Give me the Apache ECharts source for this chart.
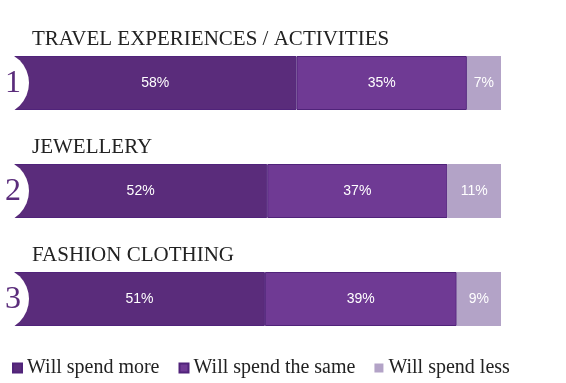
<!DOCTYPE html>
<html><head><meta charset="utf-8">
<script src="https://cdn.jsdelivr.net/npm/echarts@6/dist/echarts.min.js"></script>
<style>html,body{margin:0;padding:0;background:#fff}#c{width:566px;height:383px}</style>
</head><body><div id="c"></div>
<script>
var categories = ['TRAVEL EXPERIENCES / ACTIVITIES', 'JEWELLERY', 'FASHION CLOTHING'];
var ranks = ['1', '2', '3'];
var seriesNames = ['Will spend more', 'Will spend the same', 'Will spend less'];
var spendMore = [58, 52, 51];
var spendSame = [35, 37, 39];
var spendLess = [7, 11, 9];
var colors = ['#5a2c7b', '#6f3a94', '#b3a3c7'];

var raw = [spendMore, spendSame, spendLess];
var totals = categories.map(function (c, i) { return spendMore[i] + spendSame[i] + spendLess[i]; });

var chart = echarts.init(document.getElementById('c'), null, {renderer: 'canvas'});
var series = raw.map(function (arr, s) {
  return {
    name: seriesNames[s], type: 'bar', stack: 'a', barWidth: 54,
    itemStyle: {color: colors[s], borderColor: s < 2 ? '#50237a' : '#b3a3c7', borderWidth: s < 2 ? 1 : 0},
    label: {show: true, position: 'inside', color: '#fff', fontFamily: 'Liberation Sans', fontSize: 14,
      formatter: function (p) { return arr[p.dataIndex] + '%'; }},
    data: arr.map(function (v, i) { return v / totals[i] * 100; })
  };
});
chart.setOption({
  animation: false,
  grid: {left: 14, right: 65, top: 29, height: 324},
  xAxis: {type: 'value', min: 0, max: 100, show: false},
  yAxis: {type: 'category', data: categories, inverse: true, show: false},
  legend: {
    left: 12, top: 358, padding: 0, icon: 'rect', itemWidth: 9, itemHeight: 9, itemGap: 19,
    textStyle: {fontFamily: 'Liberation Serif', fontSize: 20, color: '#222'},
    data: seriesNames
  },
  series: series
});
var g = [];
categories.forEach(function (c, i) {
  var cy = chart.convertToPixel({yAxisIndex: 0}, c);
  g.push({type: 'circle', shape: {cx: -3, cy: cy, r: 32}, style: {fill: '#fff'}, z: 100});
  g.push({type: 'text', x: 13, y: cy + 1, z: 101,
    style: {text: ranks[i], fill: '#5a2c7b', font: '32px "Liberation Serif"', textAlign: 'center', textVerticalAlign: 'middle'}});
  g.push({type: 'text', x: 32, y: cy - 44, z: 101,
    style: {text: c, fill: '#222', font: '21px "Liberation Serif"', textAlign: 'left', textVerticalAlign: 'middle'}});
});
chart.setOption({graphic: g});
</script></body></html>
